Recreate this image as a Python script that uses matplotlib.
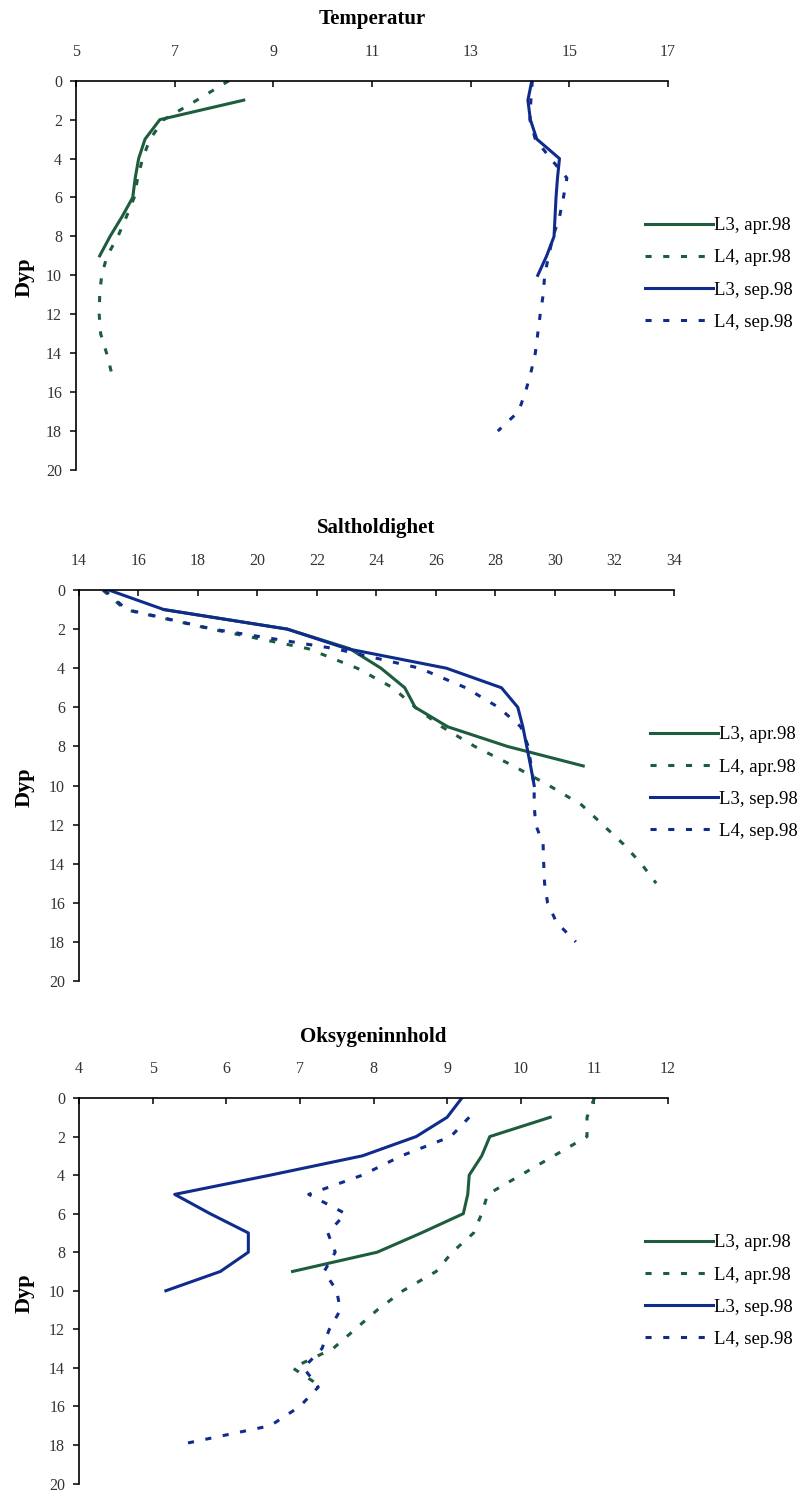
import matplotlib
matplotlib.use('Agg')
import matplotlib.pyplot as plt
from matplotlib.lines import Line2D

plt.rcParams['font.family'] = ['Liberation Serif', 'DejaVu Serif']

# farger
GREEN = '#1d5c3c'
BLUE = '#0f2c8c'

labels = ['L3, apr.98', 'L4, apr.98', 'L3, sep.98', 'L4, sep.98']
depth_ticks = list(range(0, 21, 2))

# Temperatur
temp_l3_apr_dep = [1, 2, 3, 4, 5, 6, 7, 8, 9]
temp_l3_apr = [8.4, 6.7, 6.4, 6.27, 6.2, 6.15, 5.93, 5.69, 5.48]
temp_l4_apr_dep = list(range(0, 16))
temp_l4_apr = [8.1, 7.45, 6.78, 6.5, 6.35, 6.25, 6.18, 6.02, 5.85, 5.63,
               5.52, 5.48, 5.47, 5.5, 5.62, 5.72]
temp_l3_sep_dep = list(range(0, 11))
temp_l3_sep = [14.24, 14.16, 14.21, 14.34, 14.8, 14.76, 14.73, 14.71, 14.69,
               14.54, 14.36]
temp_l4_sep_dep = list(range(0, 19))
temp_l4_sep = [14.25, 14.22, 14.2, 14.31, 14.62, 14.95, 14.88, 14.8, 14.67,
               14.58, 14.5, 14.47, 14.41, 14.36, 14.31, 14.22, 14.11, 13.97, 13.55]
temp_xticks = [5, 7, 9, 11, 13, 15, 17]

# Saltholdighet
sal_l3_apr_dep = [1, 2, 3, 4, 5, 6, 7, 8, 9]
sal_l3_apr = [16.85, 21.0, 23.1, 24.15, 24.95, 25.3, 26.4, 28.4, 30.95]
sal_l4_apr_dep = list(range(0, 16))
sal_l4_apr = [14.8, 15.55, 18.45, 21.7, 23.35, 24.55, 25.3, 26.2, 27.3, 28.6,
              29.8, 30.9, 31.6, 32.3, 32.9, 33.4]
sal_l3_sep_dep = list(range(0, 11))
sal_l3_sep = [15.0, 16.85, 21.0, 23.0, 26.35, 28.2, 28.75, 28.92, 29.05, 29.18, 29.3]
sal_l4_sep_dep = list(range(0, 19))
sal_l4_sep = [14.85, 15.6, 18.5, 22.6, 25.45, 27.0, 28.1, 28.85, 29.1, 29.2,
              29.3, 29.3, 29.35, 29.6, 29.62, 29.65, 29.75, 30.05, 30.7]
sal_xticks = list(range(14, 35, 2))

# Oksygeninnhold
oxy_l3_apr_dep = [1, 2, 3, 4, 5, 6, 7, 8, 9]
oxy_l3_apr = [10.4, 9.58, 9.47, 9.3, 9.28, 9.22, 8.65, 8.05, 6.9]
oxy_l4_apr_dep = list(range(0, 16))
oxy_l4_apr = [11.0, 10.9, 10.9, 10.45, 10.0, 9.55, 9.47, 9.36, 9.07, 8.85,
              8.4, 8.05, 7.75, 7.45, 6.9, 7.3]
oxy_l3_sep_dep = list(range(0, 11))
oxy_l3_sep = [9.2, 9.0, 8.58, 7.85, 6.6, 5.3, 5.78, 6.3, 6.3, 5.92, 5.18]
oxy_l4_sep_dep = list(range(1, 19))
oxy_l4_sep = [9.3, 9.05, 8.38, 7.85, 7.12, 7.62, 7.38, 7.48, 7.33, 7.5,
              7.55, 7.4, 7.3, 7.05, 7.25, 7.0, 6.6, 5.35]
oxy_xticks = list(range(4, 13))

DASH = (0, (2, 3.8))
styles = [(GREEN, '-'), (GREEN, DASH), (BLUE, '-'), (BLUE, DASH)]

W, H = 809, 1494
fig = plt.figure(figsize=(W / 100, H / 100), dpi=100)

# (tittel, x-ticks, serier, akse i px: venstre, topp, høyre, bunn, legend x/y, tittel y, Dyp y)
panels = [
    ('Temperatur', temp_xticks,
     [(temp_l3_apr_dep, temp_l3_apr), (temp_l4_apr_dep, temp_l4_apr),
      (temp_l3_sep_dep, temp_l3_sep), (temp_l4_sep_dep, temp_l4_sep)],
     (76, 80.7, 668, 470), (645, 274), 19, 277),
    ('Saltholdighet', sal_xticks,
     [(sal_l3_apr_dep, sal_l3_apr), (sal_l4_apr_dep, sal_l4_apr),
      (sal_l3_sep_dep, sal_l3_sep), (sal_l4_sep_dep, sal_l4_sep)],
     (79, 590, 674, 981), (650, 783), 528, 787),
    ('Oksygeninnhold', oxy_xticks,
     [(oxy_l3_apr_dep, oxy_l3_apr), (oxy_l4_apr_dep, oxy_l4_apr),
      (oxy_l3_sep_dep, oxy_l3_sep), (oxy_l4_sep_dep, oxy_l4_sep)],
     (79, 1098, 668, 1483.5), (645, 1291), 1037, 1293),
]

for title, xticks, series, box, leg, title_y, dyp_y in panels:
    l, t, r, b = box
    ax = fig.add_axes([l / W, 1 - b / H, (r - l) / W, (b - t) / H])
    for (dep, vals), (col, ls) in zip(series, styles):
        ax.plot(vals, dep, color=col, linestyle=ls, linewidth=2.2)

    ax.set_xlim(xticks[0], xticks[-1])
    ax.set_ylim(20, 0)
    ax.set_xticks(xticks)
    ax.set_yticks(depth_ticks)
    ax.xaxis.tick_top()
    for s in ['right', 'bottom']:
        ax.spines[s].set_visible(False)
    for s in ['left', 'top']:
        ax.spines[s].set_linewidth(1.2)
    ax.tick_params(axis='x', direction='in', length=4, width=1.1, pad=15,
                   labelsize=11.5, labelcolor='#333333')
    ax.tick_params(axis='y', direction='out', length=4, width=1.1, pad=6,
                   labelsize=11.5, labelcolor='#333333')
    ax.set_facecolor('none')

    handles = [Line2D([], [], color=c, linestyle=ls, linewidth=2.2) for c, ls in styles]
    ax.legend(handles, labels, loc='center left',
              bbox_to_anchor=(leg[0] / W, 1 - leg[1] / H),
              bbox_transform=fig.transFigure, frameon=False, fontsize=13.5,
              handlelength=3.6, handletextpad=0.1, labelspacing=0.8,
              borderpad=0, borderaxespad=0)

    fig.text((l + r) / 2 / W, 1 - title_y / H, title, fontsize=15,
             fontweight='bold', ha='center', va='center')
    fig.text(25 / W, 1 - dyp_y / H, 'Dyp', fontsize=16, fontweight='bold',
             rotation=90, ha='center', va='center')

fig.savefig('out.png', dpi=100)
